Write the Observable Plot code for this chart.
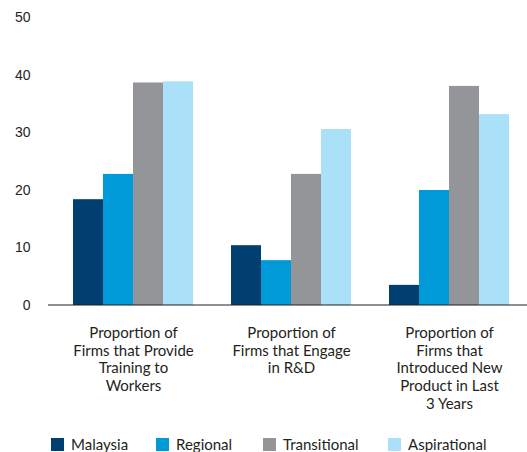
<!DOCTYPE html>
<html>
<head>
<meta charset="utf-8">
<script src="https://cdn.jsdelivr.net/npm/d3@7"></script>
<script src="https://cdn.jsdelivr.net/npm/@observablehq/plot@0.6"></script>
<style>
  html, body { margin: 0; padding: 0; background: #fff; }
  #chart { width: 527px; font-family: Lato, "Noto Sans", sans-serif; color: #231f20; }
  .legend { display: flex; align-items: center; margin-left: 51px; margin-top: 11px; font-size: 15px; line-height: 16px; color: #231f20; }
  .legend .item { display: flex; align-items: center; gap: 7px; flex: 0 0 auto; box-sizing: border-box; }
  .legend .sw { width: 13px; height: 13px; display: inline-block; flex: 0 0 13px; }
</style>
</head>
<body>
<div id="chart"></div>
<script>
const series = ["Malaysia", "Regional", "Transitional", "Aspirational"];
const groups = [
  "Proportion of\nFirms that Provide\nTraining to\nWorkers",
  "Proportion of\nFirms that Engage\nin R&D",
  "Proportion of\nFirms that\nIntroduced New\nProduct in Last\n3 Years"
];
const malaysia     = [18.4, 10.4, 3.5];
const regional     = [22.8, 7.8, 20.0];
const transitional = [38.7, 22.8, 38.1];
const aspirational = [38.9, 30.6, 33.2];
const yTicks = [0, 10, 20, 30, 40, 50];
const colors = ["#003f6f", "#009ad9", "#939598", "#abe0f9"];
const legendItemWidths = ["105px", "107px", "125px", "auto"];

const valuesBySeries = [malaysia, regional, transitional, aspirational];
const data = [];
groups.forEach((g, i) => series.forEach((s, j) => data.push({group: g, series: s, value: valuesBySeries[j][i]})));

const plot = Plot.plot({
  width: 527,
  height: 425,
  marginLeft: 55,
  marginRight: 0,
  marginTop: 17.5,
  marginBottom: 120,
  style: {fontFamily: "Lato, 'Noto Sans', sans-serif", color: "#231f20", background: "#fff"},
  fx: {domain: groups, paddingInner: 0.228, paddingOuter: 0.1, label: null},
  x: {domain: series, padding: 0, axis: null},
  y: {domain: [0, 50], label: null},
  color: {domain: series, range: colors},
  marks: [
    Plot.barY(data, {fx: "group", x: "series", y: "value", fill: "series"}),
    Plot.axisY({ticks: yTicks, tickSize: 0, tickPadding: 42, label: null, fontSize: 14, fontFamily: "'Liberation Sans', Arial, sans-serif"}),
    Plot.axisFx({tickSize: 0, tickPadding: 20, label: null, fontSize: 15, lineHeight: 1.18, anchor: "bottom"})
  ]
});

document.getElementById("chart").appendChild(plot);

// continuous baseline at y = 0, positioned with the plot's own y scale
const y0 = plot.scale("y").apply(0);
d3.select(plot).append("line")
  .attr("x1", 48).attr("x2", 527)
  .attr("y1", y0).attr("y2", y0)
  .attr("stroke", "#231f20").attr("stroke-width", 1.2);

// legend
const legend = d3.select("#chart").append("div").attr("class", "legend");
series.forEach((s, i) => {
  const it = legend.append("div").attr("class", "item").style("width", legendItemWidths[i]);
  it.append("span").attr("class", "sw").style("background", colors[i]);
  it.append("span").text(s);
});
</script>
</body>
</html>
